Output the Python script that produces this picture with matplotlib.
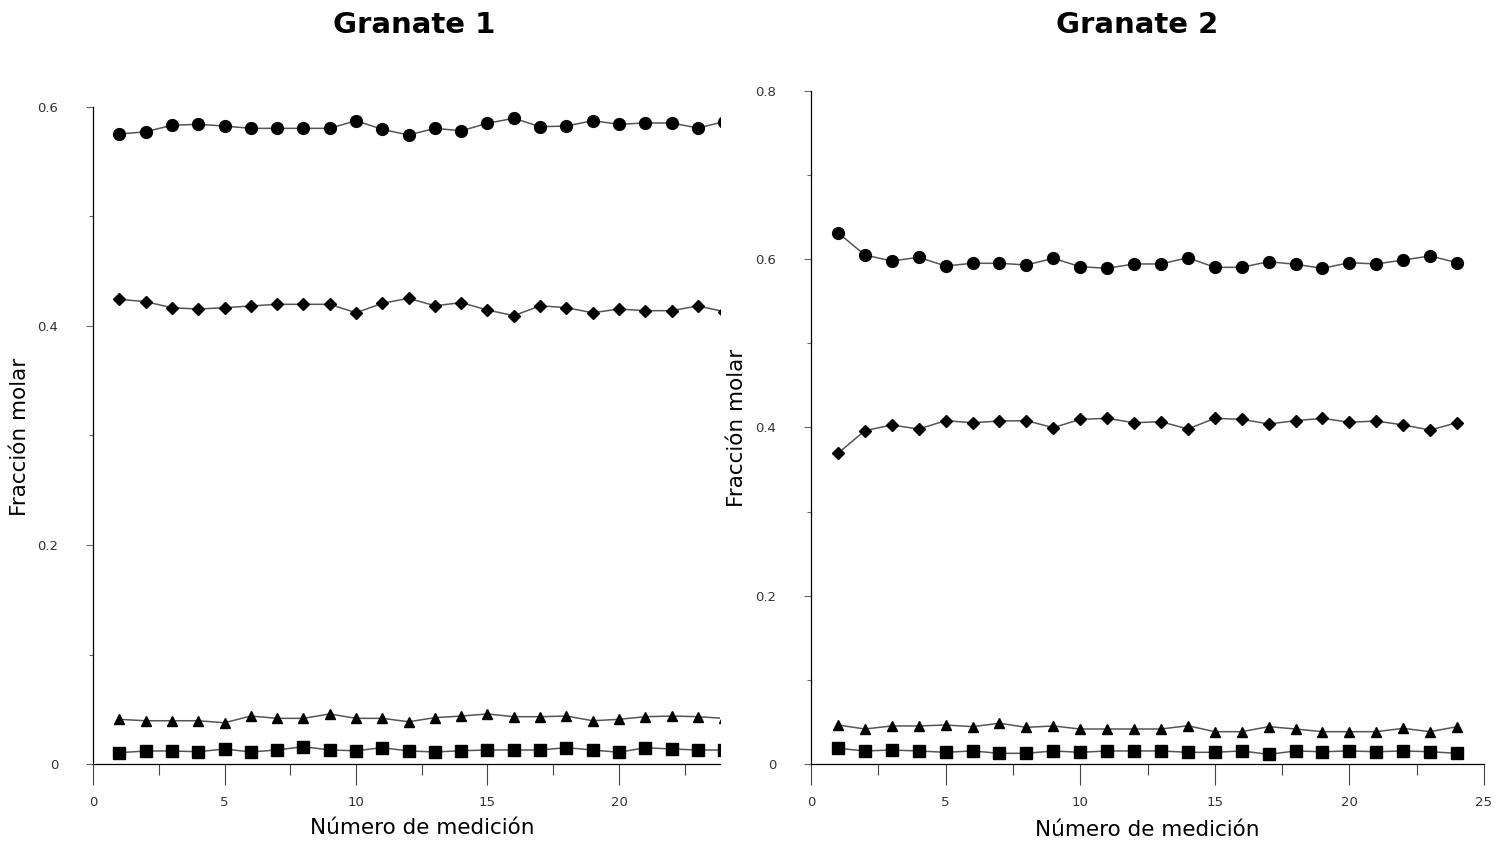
import numpy as np
import matplotlib.pyplot as plt
from matplotlib.ticker import MultipleLocator

# Número de medición
n = list(range(1, 25))

# Granate 1
g1_circ = [0.5753, 0.5774, 0.5833, 0.5842, 0.5826, 0.5805, 0.5805, 0.5805, 0.5805, 0.5875,
           0.5796, 0.5744, 0.5805, 0.5783, 0.5851, 0.5897, 0.5820, 0.5826, 0.5875, 0.5842,
           0.5854, 0.5854, 0.5808, 0.5866]
g1_diam = [0.4244, 0.4222, 0.4167, 0.4155, 0.4167, 0.4183, 0.4198, 0.4198, 0.4198, 0.4121,
           0.4207, 0.4253, 0.4185, 0.4213, 0.4146, 0.4094, 0.4185, 0.4167, 0.4121, 0.4155,
           0.4140, 0.4140, 0.4183, 0.4131]
g1_tri = [0.0408, 0.0395, 0.0395, 0.0395, 0.0377, 0.0438, 0.0417, 0.0417, 0.0457, 0.0417,
          0.0417, 0.0386, 0.0423, 0.0438, 0.0457, 0.0432, 0.0432, 0.0438, 0.0395, 0.0408,
          0.0432, 0.0438, 0.0432, 0.0417]
g1_sq = [0.0103, 0.0119, 0.0119, 0.0112, 0.0137, 0.0110, 0.0128, 0.0158, 0.0128, 0.0121,
         0.0149, 0.0119, 0.0110, 0.0121, 0.0128, 0.0128, 0.0128, 0.0149, 0.0128, 0.0107,
         0.0149, 0.0137, 0.0128, 0.0128]

# Granate 2
g2_circ = [0.6316, 0.6051, 0.5979, 0.6023, 0.5920, 0.5952, 0.5952, 0.5932, 0.6011, 0.5912,
           0.5892, 0.5944, 0.5944, 0.6018, 0.5904, 0.5904, 0.5971, 0.5940, 0.5892, 0.5959,
           0.5944, 0.5991, 0.6039, 0.5959]
g2_diam = [0.3693, 0.3962, 0.4030, 0.3982, 0.4081, 0.4057, 0.4077, 0.4081, 0.3998, 0.4097,
           0.4109, 0.4057, 0.4069, 0.3982, 0.4109, 0.4097, 0.4042, 0.4081, 0.4109, 0.4062,
           0.4077, 0.4030, 0.3970, 0.4057]
g2_tri = [0.0464, 0.0416, 0.0452, 0.0452, 0.0464, 0.0444, 0.0484, 0.0436, 0.0452, 0.0416,
          0.0416, 0.0416, 0.0416, 0.0455, 0.0384, 0.0384, 0.0444, 0.0416, 0.0384, 0.0384,
          0.0384, 0.0424, 0.0384, 0.0444]
g2_sq = [0.0187, 0.0155, 0.0166, 0.0155, 0.0139, 0.0155, 0.0127, 0.0127, 0.0155, 0.0139,
         0.0155, 0.0155, 0.0155, 0.0139, 0.0139, 0.0155, 0.0115, 0.0155, 0.0146, 0.0155,
         0.0146, 0.0155, 0.0146, 0.0127]

W, H = 1505, 844
fig = plt.figure(figsize=(W / 100, H / 100), dpi=100)

# marker styles: (marker, size)
styles = [("o", 8.5), ("D", 6), ("^", 6.5), ("s", 8)]


def draw_panel(ax, series, xmax, ymax, title, title_x):
    for (m, ms), y in zip(styles, series):
        ax.plot(n, y, color="#555555", lw=1.1, marker=m, ms=ms,
                mfc="black", mec="black", zorder=3)
    ax.set_xlim(0, xmax)
    ax.set_ylim(0, ymax)
    for s in ["top", "right"]:
        ax.spines[s].set_visible(False)
    for s in ["left", "bottom"]:
        ax.spines[s].set_linewidth(0.9)
    ax.xaxis.set_major_locator(MultipleLocator(5))
    ax.xaxis.set_minor_locator(MultipleLocator(2.5))
    ax.yaxis.set_major_locator(MultipleLocator(0.2))
    ax.yaxis.set_minor_locator(MultipleLocator(0.1))
    ax.yaxis.set_major_formatter(plt.FuncFormatter(lambda v, p: "0" if v == 0 else f"{v:.1f}"))
    ax.tick_params(axis="x", which="major", direction="out", length=15, width=0.8,
                   color="#444444", labelsize=9.5, labelcolor="#333333", pad=8)
    ax.tick_params(axis="x", which="minor", direction="out", length=8, width=0.8,
                   color="#444444")
    ax.tick_params(axis="y", which="major", direction="out", length=5, width=0.8,
                   color="#666666", labelsize=9.5, labelcolor="#333333", pad=20)
    ax.tick_params(axis="y", which="minor", direction="out", length=3, width=0.8,
                   color="#666666")
    ax.set_xlabel("Número de medición", fontsize=15.5)
    ax.set_ylabel("Fracción molar", fontsize=15.5)
    fig.text(title_x / W, 1 - 25 / H, title, ha="center", va="center",
             fontsize=21, fontweight="bold")


# Granate 1
ax1 = fig.add_axes([93 / W, 80 / H, 627 / W, 657 / H])
xmax1 = (720 - 93) / 26.3
draw_panel(ax1, [g1_circ, g1_diam, g1_tri, g1_sq], xmax1, 0.6, "Granate 1", 414)
ax1.xaxis.label.set_va("center")
ax1.xaxis.set_label_coords(12.5 / xmax1, (764 - 828) / 657)
ax1.yaxis.label.set_va("center")
ax1.yaxis.set_label_coords((20 - 93) / 627, (764 - 437) / 657)

# Granate 2
ax2 = fig.add_axes([811 / W, 80 / H, 673 / W, 673 / H])
draw_panel(ax2, [g2_circ, g2_diam, g2_tri, g2_sq], 25, 0.8, "Granate 2", 1137)
ax2.xaxis.label.set_va("center")
ax2.xaxis.set_label_coords(0.5, (764 - 830) / 673)
ax2.yaxis.label.set_va("center")
ax2.yaxis.set_label_coords((737 - 811) / 673, (764 - 428) / 673)

fig.savefig("out.png", dpi=100)
